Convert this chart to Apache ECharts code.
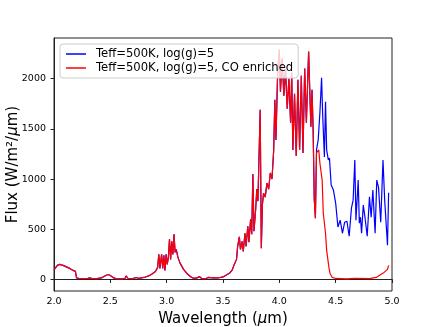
<!DOCTYPE html>
<html>
<head>
<meta charset="utf-8">
<script src="https://cdn.jsdelivr.net/npm/echarts@6/dist/echarts.min.js"></script>
<style>
  html, body { margin: 0; padding: 0; background: #fff; }
  #chart { width: 436px; height: 327px; }
</style>
</head>
<body>
<div id="chart"></div>
<script>
// 光谱数据：两条曲线在 4.32 μm 之前重合，之后分开
const commonWave = [
  2.00, 2.01, 2.03, 2.05, 2.08, 2.11, 2.14, 2.17, 2.19, 2.20, 2.22, 2.26, 2.30, 2.32, 2.34, 2.38,
  2.42, 2.45, 2.48, 2.50, 2.53, 2.56, 2.60, 2.63, 2.64, 2.655, 2.70, 2.73, 2.75, 2.80, 2.84, 2.87,
  2.90, 2.92, 2.93, 2.94, 2.955, 2.965, 2.975, 2.985, 2.995, 3.005, 3.015, 3.025, 3.035, 3.045, 3.055, 3.065,
  3.075, 3.085, 3.10, 3.12, 3.15, 3.18, 3.21, 3.24, 3.27, 3.29, 3.31, 3.34, 3.37, 3.41, 3.45, 3.48,
  3.50, 3.53, 3.56, 3.58, 3.60, 3.62, 3.63, 3.645, 3.655, 3.67, 3.68, 3.695, 3.705, 3.72, 3.73, 3.745,
  3.755, 3.765, 3.775, 3.79, 3.80, 3.81, 3.83, 3.84, 3.85, 3.86, 3.875, 3.89, 3.905, 3.92, 3.935, 3.95,
  3.96, 3.97, 3.985, 4.00, 4.01, 4.025, 4.04, 4.055, 4.07, 4.085, 4.10, 4.11, 4.12, 4.135, 4.15, 4.165,
  4.18, 4.195, 4.21, 4.225, 4.24, 4.26, 4.27, 4.28, 4.29, 4.30, 4.31, 4.32
];
const commonFlux = [
  95, 110, 140, 150, 140, 125, 110, 90, 80, 15, 10, 8, 10, 15, 8, 8,
  15, 35, 50, 40, 15, 5, 5, 10, 35, 12, 8, 20, 10, 20, 35, 55,
  80, 120, 250, 110, 250, 110, 240, 90, 250, 150, 220, 400, 200, 380, 250, 450,
  270, 300, 220, 160, 100, 60, 30, 10, 15, 30, 10, 5, 20, 15, 15, 20,
  25, 45, 65, 90, 150, 200, 330, 425, 300, 380, 280, 460, 330, 530, 370, 600,
  450, 1050, 480, 700, 900, 780, 1690, 310, 750, 860, 820, 960, 900, 1060, 1000, 1290,
  1790, 1390, 2060, 2290, 1870, 2200, 1830, 2090, 1700, 2000, 1560, 2060, 1290, 1850, 1230, 1990,
  1290, 2030, 1260, 2100, 1560, 2270, 1890, 1520, 1890, 1490, 800, 610
];

// 普通模型尾段
const blueWave = [
  4.33, 4.345, 4.36, 4.375, 4.385, 4.40, 4.41, 4.42, 4.435, 4.445, 4.46, 4.48, 4.50, 4.52, 4.54, 4.56,
  4.58, 4.60, 4.62, 4.64, 4.655, 4.67, 4.68, 4.70, 4.71, 4.72, 4.73, 4.745, 4.76, 4.78, 4.80, 4.815,
  4.83, 4.85, 4.865, 4.88, 4.90, 4.92, 4.935, 4.96, 4.97
];
const blueFlux = [
  1290, 1390, 1660, 2010, 1630, 1220, 1770, 1290, 1190, 1210, 940, 890, 760, 523, 590, 460,
  570, 580, 430, 710, 790, 1190, 590, 990, 560, 620, 460, 740, 620, 430, 823, 620,
  890, 460, 990, 920, 570, 1190, 790, 340, 863
];

// CO 富集模型尾段
const redWave = [
  4.33, 4.35, 4.36, 4.38, 4.39, 4.41, 4.42, 4.44, 4.45, 4.47, 4.50, 4.60, 4.67, 4.68, 4.80, 4.86,
  4.90, 4.93, 4.96, 4.97
];
const redFlux = [
  1260, 1290, 1160, 990, 660, 460, 290, 120, 60, 20, 10, 5, 12, 5, 8, 20,
  50, 70, 100, 140
];

const xTicks = [2.0, 2.5, 3.0, 3.5, 4.0, 4.5, 5.0];
const yTicks = [0, 500, 1000, 1500, 2000];

const pairs = (w, f) => w.map((x, i) => [x, f[i]]);
const blueData = pairs(commonWave.concat(blueWave), commonFlux.concat(blueFlux));
const redData = pairs(commonWave.concat(redWave), commonFlux.concat(redFlux));

const font = 'DejaVu Sans';
const chart = echarts.init(document.getElementById('chart'));
chart.setOption({
  animation: false,
  textStyle: { fontFamily: font },
  grid: {
    left: 54, right: 44, top: 38, bottom: 36, outerBoundsMode: 'none', containLabel: false,
    show: true, borderColor: '#222', borderWidth: 1
  },
  legend: {
    orient: 'vertical', left: 60, top: 44,
    icon: 'rect', itemWidth: 20, itemHeight: 1.5, itemGap: 2,
    padding: [4, 5, 4, 6],
    borderColor: '#ccc', borderWidth: 1, borderRadius: 3, backgroundColor: 'rgba(255,255,255,0.8)',
    textStyle: { fontFamily: font, fontSize: 11.6, color: '#000', padding: [0, 0, 0, 5] },
    data: ['Teff=500K, log(g)=5', 'Teff=500K, log(g)=5, CO enriched']
  },
  xAxis: {
    type: 'value', min: 2.0, max: 5.0, interval: 0.5,
    name: 'Wavelength ({i|μ}m)', nameLocation: 'middle', nameGap: 21, nameMoveOverlap: false,
    nameTextStyle: { fontSize: 15, color: '#000', rich: { i: { fontSize: 15, fontStyle: 'italic', fontFamily: font } } },
    axisLine: { lineStyle: { color: '#222' } },
    axisTick: { length: 3.5, lineStyle: { color: '#222' } },
    axisLabel: { fontSize: 9.5, color: '#000', margin: 6, formatter: (v) => v.toFixed(1), customValues: xTicks },
    splitLine: { show: false }
  },
  yAxis: {
    type: 'value', min: -115, max: 2405,
    name: 'Flux (W/m²/{i|μ}m)', nameLocation: 'middle', nameGap: 33, nameMoveOverlap: false,
    nameTextStyle: { fontSize: 15, color: '#000', rich: { i: { fontSize: 15, fontStyle: 'italic', fontFamily: font } } },
    axisLine: { show: true, lineStyle: { color: '#222' } },
    axisTick: { show: true, length: 3.5, lineStyle: { color: '#222' }, customValues: yTicks },
    axisLabel: { fontSize: 9.5, color: '#000', margin: 8, formatter: (v) => String(v), customValues: yTicks },
    splitLine: { show: false }
  },
  series: [
    {
      name: 'Teff=500K, log(g)=5', type: 'line', data: blueData,
      showSymbol: false, lineStyle: { color: '#0000ff', width: 1.2 }, itemStyle: { color: '#0000ff' }
    },
    {
      name: 'Teff=500K, log(g)=5, CO enriched', type: 'line', data: redData,
      showSymbol: false, lineStyle: { color: '#ff0000', width: 1.2 }, itemStyle: { color: '#ff0000' }
    }
  ]
});
</script>
</body>
</html>
